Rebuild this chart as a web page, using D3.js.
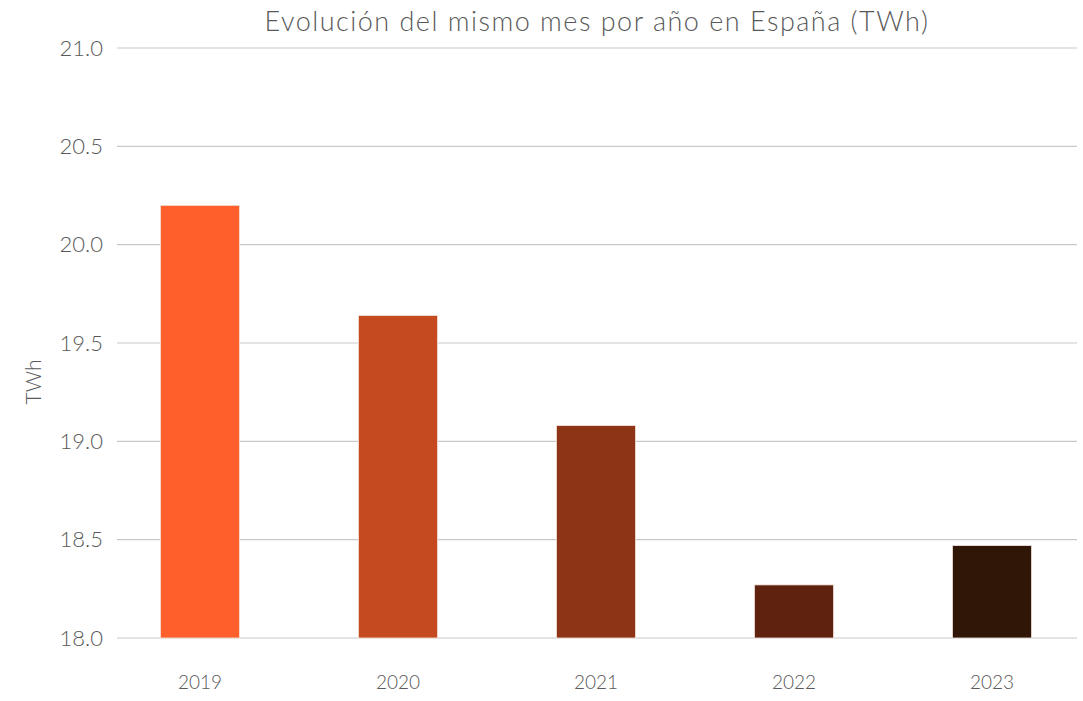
<!DOCTYPE html>
<html>
<head>
<meta charset="utf-8">
<script src="https://cdn.jsdelivr.net/npm/d3@7"></script>
<style>
  body { margin: 0; background: #fff; }
  text { font-family: "Lato", "Open Sans", sans-serif; font-weight: 300; fill: #595959; }
</style>
</head>
<body>
<div id="chart"></div>
<script>
const years = ["2019", "2020", "2021", "2022", "2023"];
const values = [20.20, 19.64, 19.08, 18.27, 18.47];
const barColors = ["#FF5F2A", "#C64A20", "#8E3416", "#5E220E", "#301607"];
const yTicks = [18.0, 18.5, 19.0, 19.5, 20.0, 20.5, 21.0];

const width = 1083, height = 701;

const svg = d3.select("#chart")
  .append("svg")
  .attr("width", width)
  .attr("height", height);

// scales
const x = d3.scaleBand()
  .domain(years)
  .range([101, 1091])
  .paddingInner(0.6)
  .paddingOuter(0.3);

const y = d3.scaleLinear()
  .domain([18, 21])
  .range([638, 48]);

// gridlines
svg.append("g")
  .selectAll("line")
  .data(yTicks)
  .join("line")
  .attr("x1", 117)
  .attr("x2", 1077)
  .attr("y1", d => y(d))
  .attr("y2", d => y(d))
  .attr("stroke", "#c9c9c9")
  .attr("stroke-width", 1.2);

// y axis labels
const yAxis = svg.append("g")
  .attr("transform", "translate(117,0)")
  .call(d3.axisLeft(y).tickValues(yTicks).tickFormat(d3.format(".1f")).tickSize(0).tickPadding(14));
yAxis.select(".domain").remove();
yAxis.selectAll("text")
  .style("font-size", "22px")
  .attr("fill", "#595959")
  .style("font-family", "Lato, sans-serif");

// bars
svg.append("g")
  .selectAll("rect")
  .data(values)
  .join("rect")
  .attr("x", (d, i) => x(years[i]))
  .attr("y", d => y(d))
  .attr("width", x.bandwidth())
  .attr("height", d => y(18) - y(d))
  .attr("fill", (d, i) => barColors[i])
  .attr("stroke", "#f3e6e0")
  .attr("stroke-width", 0.8);

// x axis labels
const xAxis = svg.append("g")
  .attr("transform", "translate(0,638)")
  .call(d3.axisBottom(x).tickSize(0).tickPadding(38));
xAxis.select(".domain").remove();
xAxis.selectAll("text")
  .style("font-size", "19px")
  .attr("fill", "#595959")
  .style("font-family", "Lato, sans-serif");

// y axis title
svg.append("text")
  .attr("transform", "translate(41,382) rotate(-90)")
  .attr("text-anchor", "middle")
  .style("font-size", "21px")
  .text("TWh");

// chart title
svg.append("text")
  .attr("x", 597)
  .attr("y", 31)
  .attr("text-anchor", "middle")
  .style("font-size", "27px")
  .style("letter-spacing", "1.5px")
  .text("Evolución del mismo mes por año en España (TWh)");
</script>
</body>
</html>
